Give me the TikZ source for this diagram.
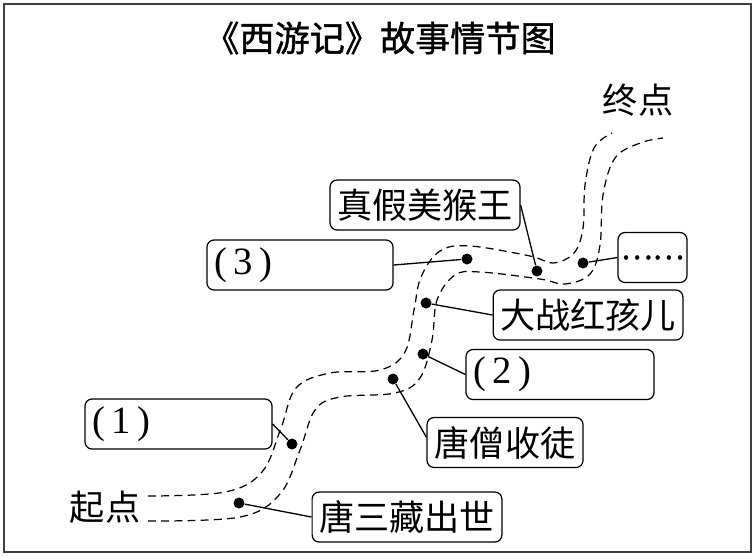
\documentclass[tikz,border=0pt]{standalone}
\usepackage{fontspec}
\setmainfont{Liberation Serif}
\newfontfamily\cjk{Noto Sans CJK SC}
\newfontfamily\cjktitle[FakeBold=1.2]{Noto Sans CJK SC}

\begin{document}
\begin{tikzpicture}[x=0.02cm,y=-0.02cm,
  box/.style={draw, rounded corners=4pt, line width=0.7pt, minimum height=1cm,
    inner sep=4pt, font=\cjk\fontsize{20}{24}\selectfont},
  blank/.style={box, text width=#1, align=left, font=\fontsize{22}{26}\selectfont},
  spot/.style={circle, fill, inner sep=0pt, minimum size=0.22cm},
  road/.style={dash pattern=on 4.5pt off 3pt, line width=0.7pt},
  link/.style={line width=0.75pt}]
\useasboundingbox (0,0) rectangle (756,556);
\draw[line width=0.8pt, black!75] (4,4) rectangle (751,552);

\node[font=\cjktitle\fontsize{20}{24}\selectfont] (title) at (380,38) {《西游记》故事情节图};
\node[font=\cjk\fontsize{20}{24}\selectfont] (zhongdian) at (638,100) {终点};
\node[font=\cjk\fontsize{20}{24}\selectfont] (qidian) at (105,507) {起点};

% the road
\draw[road] plot[smooth, tension=0.6] coordinates {(148,496) (225,492) (262,472) (281,428)
  (296,388) (330,373) (380,370) (405,352) (414,310) (421,277) (440,251) (470,246)
  (530,256) (553,263) (574,253) (583,228) (585,185) (594,148) (612,133)};
\draw[road] plot[smooth, tension=0.6] coordinates {(148,521) (240,517) (280,494) (300,450)
  (315,410) (340,397) (395,393) (420,378) (432,340) (437,300) (455,275) (480,272)
  (540,279) (565,284) (590,274) (600,245) (603,195) (615,158) (640,143) (663,138)};

% stops on the road
\node[spot] (d1) at (239,503) {};
\node[spot] (d2) at (292,444) {};
\node[spot] (d3) at (393,379) {};
\node[spot] (d4) at (423,354) {};
\node[spot] (d5) at (426,303) {};
\node[spot] (d6) at (467,259) {};
\node[spot] (d7) at (537,271) {};
\node[spot] (d8) at (583,263) {};

\node[box, minimum width=3.72cm] (chushi) at (407,517) {唐三藏出世};
\node[blank=3.46cm] (k1) at (178.5,424) {(\,1\,)};
\node[box, minimum width=3.12cm] (shoutu) at (505,442.5) {唐僧收徒};
\node[blank=3.48cm] (k2) at (560,374.5) {(\,2\,)};
\node[box, minimum width=3.76cm] (honghai) at (588,315) {大战红孩儿};
\node[blank=3.44cm] (k3) at (300,265) {(\,3\,)};
\node[box, minimum width=3.8cm] (houwang) at (425,205) {真假美猴王};
\node[box, minimum width=1.38cm, inner xsep=1pt, font=\cjktitle\fontsize{17}{20}\selectfont] (more) at (652.5,257.5) {……};

\draw[link] (d1) -- (chushi.west);
\draw[link] (d2) -- (k1.east);
\draw[link] (d3) -- ([yshift=3pt]shoutu.west);
\draw[link] (d4) -- (k2.west);
\draw[link] (d5) -- (honghai.west);
\draw[link] (d6) -- (k3.east);
\draw[link] (d7) -- (houwang.east);
\draw[link] (d8) -- (more.west);
\end{tikzpicture}
\end{document}
